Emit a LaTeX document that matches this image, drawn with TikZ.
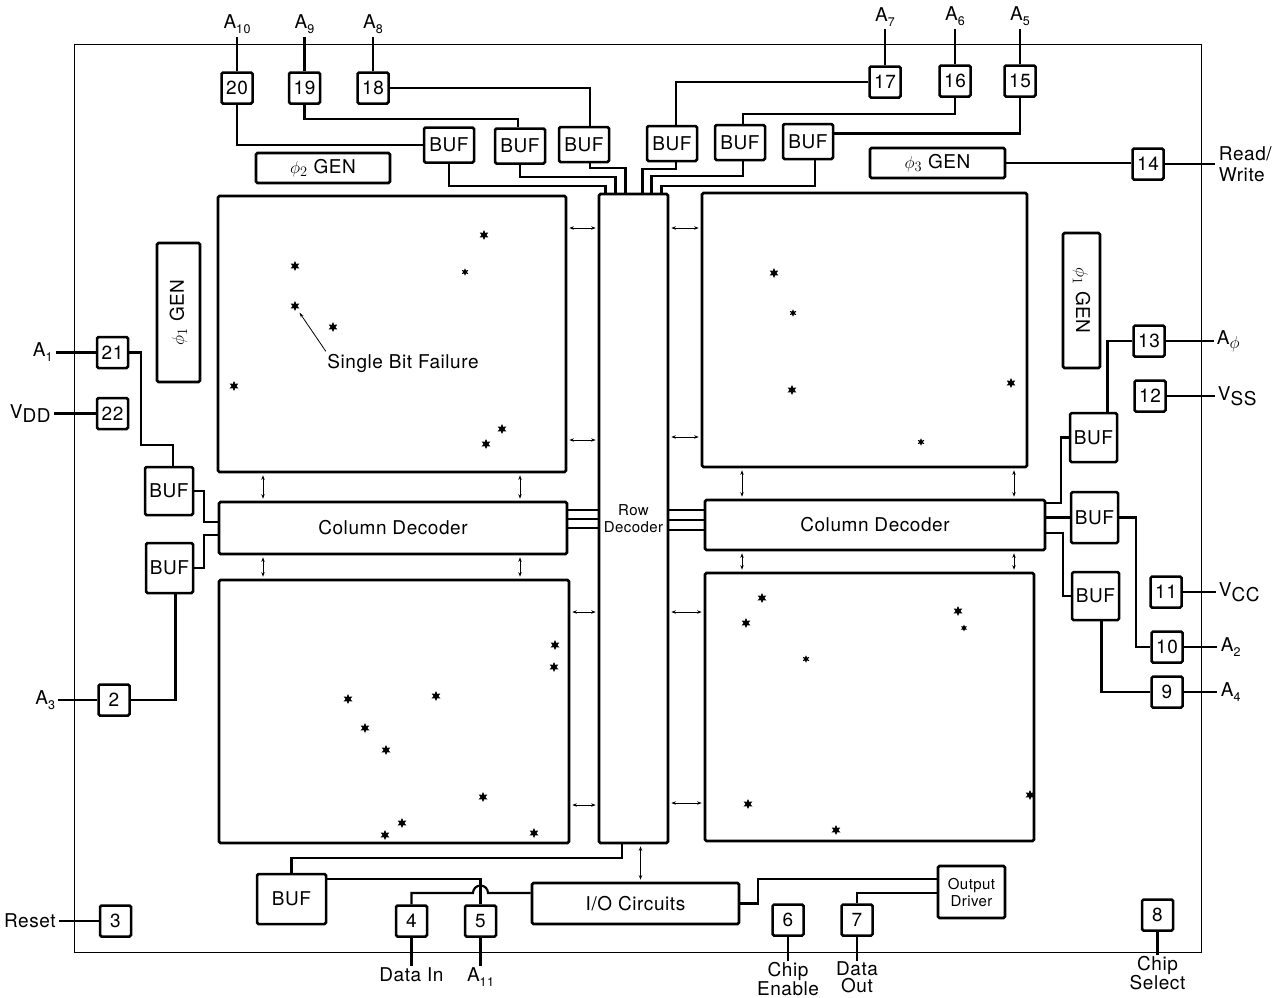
\documentclass[tikz,border=0pt]{standalone}
\usepackage{fontspec}
\setmainfont[LetterSpace=3]{TeX Gyre Heros}
\usetikzlibrary{shapes.geometric,arrows.meta}
\newcommand\ssub[1]{\raisebox{-0.5ex}{\fontsize{12.5}{12.5}\selectfont #1}}
\newcommand\lsub[1]{\raisebox{-0.45ex}{#1}}
\begin{document}
\begin{tikzpicture}[x=1pt,y=-1pt,
  every node/.style={font=\fontsize{19}{21}\selectfont},
  pad/.style={draw,line width=2.5pt,minimum width=31,minimum height=31,inner sep=0,rounded corners=1.5},
  buf/.style={draw,line width=2.5pt,inner sep=0,rounded corners=1.5},
  blk/.style={draw,line width=2.7pt,inner sep=0,rounded corners=1.5},
  wire/.style={line width=2.1pt},
  lead/.style={line width=2.3pt},
  dbl/.style={line width=0.8pt,{Stealth[length=4.5pt,width=3.5pt]}-{Stealth[length=4.5pt,width=3.5pt]},shorten <=2pt,shorten >=2pt},
  fail/.style={star,star points=6,star point ratio=2,fill,draw=none,inner sep=0}
]
\useasboundingbox (0,0) rectangle (1278,997);
\fill[white] (0,0) rectangle (1278,997);
% chip outline
\draw[line width=0.9pt] (74,44) rectangle (1201,952);

% memory arrays and decoders
\node[blk,minimum width=348,minimum height=276] (tl) at (392,334) {};
\node[blk,minimum width=325,minimum height=274] (tr) at (864.5,330) {};
\node[blk,minimum width=350,minimum height=263] (bl) at (394,711.5) {};
\node[blk,minimum width=329,minimum height=268] (br) at (869.5,707) {};
\node[blk,minimum width=69,minimum height=649,align=center,font=\fontsize{15}{17}\selectfont] (rd) at (633.5,518.5) {Row\\Decoder};
\node[blk,minimum width=348,minimum height=52] (lcd) at (393,528) {Column Decoder};
\node[blk,minimum width=340,minimum height=50] (rcd) at (875,525) {Column Decoder};

% generators
\node[blk,minimum width=134,minimum height=30] (g2) at (323,168) {$\phi_2$ GEN};
\node[blk,minimum width=135,minimum height=30] (g3) at (937.5,163) {$\phi_3$ GEN};
\node[blk,minimum width=43,minimum height=139] (g1l) at (178.5,312.5) {\rotatebox{90}{$\phi_1$ GEN}};
\node[blk,minimum width=37,minimum height=135] (g1r) at (1081.5,300.5) {\rotatebox{-90}{$\phi_1$ GEN}};

% buffers
\foreach \n/\x/\y in {b1/449/145, b2/520/146, b3/584/144.5, b4/672/143.5, b5/740/142.5, b6/808/141.5}
  \node[buf,minimum width=50,minimum height=35] (\n) at (\x,\y) {BUF};
\node[buf,minimum width=48,minimum height=48] (bl1) at (169,491) {BUF};
\node[buf,minimum width=47,minimum height=50] (bl2) at (169.5,568) {BUF};
\node[buf,minimum width=47,minimum height=49] (br1) at (1093.5,437.5) {BUF};
\node[buf,minimum width=47,minimum height=51] (br2) at (1094.5,517.5) {BUF};
\node[buf,minimum width=47,minimum height=48] (br3) at (1095.5,596) {BUF};
\node[buf,minimum width=69,minimum height=50] (bb) at (291.5,899) {BUF};
\node[blk,minimum width=207,minimum height=41] (io) at (635.5,903.5) {I/O Circuits};
\node[blk,minimum width=67,minimum height=52,align=center,font=\fontsize{15}{17}\selectfont] (od) at (971.5,892) {Output\\Driver};

% pads
\foreach \n/\t/\x/\y in {p20/20/237/88, p19/19/304.5/88, p18/18/373/88, p17/17/885/82, p16/16/955/81, p15/15/1020/81,
  p14/14/1148/164, p13/13/1149/341, p12/12/1150/396, p11/11/1166/592, p10/10/1167/647, p9/9/1167/692, p8/8/1157.5/915,
  p7/7/857/920, p6/6/788/920, p5/5/480.5/921, p4/4/411.5/921, p3/3/115.5/921, p2/2/114/700, p21/21/112.5/352.5, p22/22/112.5/413.5}
  \node[pad] (\n) at (\x,\y) {\t};

% pin leads and labels
\draw[lead] (p20.north) -- ++(0,-34) node[above,inner sep=2] {A\ssub{10}};
\draw[lead] (p19.north) -- ++(0,-34) node[above,inner sep=2] {A\ssub{9}};
\draw[lead] (p18.north) -- ++(0,-34) node[above,inner sep=2] {A\ssub{8}};
\draw[lead] (p17.north) -- ++(0,-36) node[above,inner sep=2] {A\ssub{7}};
\draw[lead] (p16.north) -- ++(0,-35) node[above,inner sep=2] {A\ssub{6}};
\draw[lead] (p15.north) -- ++(0,-35) node[above,inner sep=2] {A\ssub{5}};
\draw[lead] (p14.east) -- ++(50,0) node[right,align=left,inner sep=3] {Read/\\Write};
\draw[lead] (p13.east) -- ++(48,0) node[right,inner sep=2] {A\lsub{$\phi$}};
\draw[lead] (p12.east) -- ++(48,0) node[right,inner sep=2] {V\lsub{SS}};
\draw[lead] (p11.east) -- ++(33,0) node[right,inner sep=2] {V\lsub{CC}};
\draw[lead] (p10.east) -- ++(33,0) node[right,inner sep=3] {A\ssub{2}};
\draw[lead] (p9.east) -- ++(33,0) node[right,inner sep=3] {A\ssub{4}};
\draw[lead] (p8.south) -- ++(0,23) node[below,align=center,inner sep=0,font=\fontsize{19}{16.5}\selectfont] {Chip\\Select};
\draw[lead] (p7.south) -- ++(0,24) node[below,align=center,inner sep=0,font=\fontsize{19}{16.5}\selectfont] {Data\\Out};
\draw[lead] (p6.south) -- ++(0,24) node[below,align=center,inner sep=0,font=\fontsize{19}{16.5}\selectfont] {Chip\\Enable};
\draw[lead] (p5.south) -- ++(0,28) node[below,inner sep=1] {A\ssub{11}};
\draw[lead] (p4.south) -- ++(0,28) node[below,inner sep=1] {Data In};
\draw[lead] (p3.west) -- ++(-40,0) node[left,inner sep=2] {Reset};
\draw[lead] (p2.west) -- ++(-39,0) node[left,inner sep=2] {A\ssub{3}};
\draw[lead] (p22.west) -- ++(-42,0) node[left,inner sep=2] {V\lsub{DD}};
\draw[lead] (p21.west) -- ++(-40,0) node[left,inner sep=2] {A\ssub{1}};

% top wiring
\draw[wire] (p20.south) |- (b1.west);
\draw[wire] (p19.south) -- ++(0,14) -| ([xshift=-2]b2.north);
\draw[wire] (p18.east) -| ([xshift=6]b3.north);
\draw[wire] (p17.west) -| ([xshift=4]b4.north);
\draw[wire] (p16.south) -- ++(0,16) -| ([xshift=3]b5.north);
\draw[wire] (p15.south) |- ([yshift=8]b6.east);
\draw[wire] (b1.south) -- ++(0,22) -| ([xshift=-28]rd.north);
\draw[wire] (b2.south) -- ++(0,12) -| ([xshift=-18]rd.north);
\draw[wire] ([xshift=6]b3.south) -- ++(0,5) -| ([xshift=-8]rd.north);
\draw[wire] ([xshift=4]b4.south) -- ++(0,7) -| ([xshift=9]rd.north);
\draw[wire] ([xshift=3]b5.south) -- ++(0,15) -| ([xshift=18]rd.north);
\draw[wire] ([xshift=7]b6.south) -- ++(0,26) -| ([xshift=28]rd.north);
\draw[wire] (g3.east) -- (g3.east -| p14.west);

% left wiring
\draw[wire] (p21.east) -- ++(12,0) |- ([xshift=4,yshift=21]bl1.north) -- ([xshift=4]bl1.north);
\draw[wire] (bl1.east) -- ++(10,0) |- ([yshift=6]lcd.west);
\draw[wire] (bl2.east) -- ++(10,0) |- ([yshift=-7]lcd.west);
\draw[wire] (p2.east) -| ([xshift=6]bl2.south);

% right wiring
\draw[wire] (p13.west) -| ([xshift=14]br1.north);
\draw[wire] (br1.west) -- ++(-8,0) |- ([yshift=22]rcd.east);
\draw[wire] (br2.west) -- (br2.west -| rcd.east);
\draw[wire] ([yshift=-8]rcd.east) -- ++(17,0) |- (br3.west);
\draw[wire] (br2.east) -- ++(17,0) |- (p10.west);
\draw[wire] ([xshift=6]br3.south) |- (p9.west);

% decoder buses
\foreach \d in {18,9,0}
  \draw[wire] ([yshift=\d]lcd.east) -- ([yshift=\d]lcd.east -| rd.west);
\foreach \d in {15,5,-5}
  \draw[wire] ([yshift=\d]rcd.west) -- ([yshift=\d]rcd.west -| rd.east);

% bottom wiring
\draw[wire] ([xshift=-11.5]rd.south) -- ++(0,14) -| (bb.north);
\draw[dbl] ([xshift=7]rd.south) -- ([xshift=7]rd.south |- io.north);
\draw[wire] ([yshift=20]bb.east) -| (p5.north);
\draw[wire] ([yshift=10.5]io.west) -- (488,893) arc[start angle=0,end angle=180,radius=7.5pt] -| (p4.north);
\draw[wire] (io.east) -- ++(18,0) |- ([yshift=13]od.west);
\draw[wire] ([yshift=-1]od.west) -| (p7.north);

% double arrows
\draw[dbl] (tl.east |- 0,228) -- (rd.west |- 0,228);
\draw[dbl] (tl.east |- 0,440) -- (rd.west |- 0,440);
\draw[dbl] (bl.east |- 0,612) -- (rd.west |- 0,612);
\draw[dbl] (bl.east |- 0,805) -- (rd.west |- 0,805);
\draw[dbl] (rd.east |- 0,228) -- (tr.west |- 0,228);
\draw[dbl] (rd.east |- 0,437) -- (tr.west |- 0,437);
\draw[dbl] (rd.east |- 0,612) -- (br.west |- 0,612);
\draw[dbl] (rd.east |- 0,803) -- (br.west |- 0,803);
\foreach \x in {263,520} {
  \draw[dbl] (tl.south -| \x,0) -- (lcd.north -| \x,0);
  \draw[dbl] (lcd.south -| \x,0) -- (bl.north -| \x,0);
}
\foreach \x in {742,1014} {
  \draw[dbl] (tr.south -| \x,0) -- (rcd.north -| \x,0);
  \draw[dbl] (rcd.south -| \x,0) -- (br.north -| \x,0);
}

% failure marks
\foreach \x/\y/\s [count=\i] in {484/235/10, 295/266/10, 465/272/7.5, 295/306/10, 333/327/10, 234/386/10, 502/429/10, 486/444/10,
  774/273/10, 793/313/7.5, 792/390/10, 1011/383/10, 921/442/7.5,
  555/645/10, 554/667/10, 348/699/10, 436/696/10, 365/728/10, 386/750/10, 483/797/10, 402/823/10, 385/835/10, 534/833/10,
  762/598/10, 746/623/10, 958/611/10, 964/628/7, 806/659/7.5, 748/804/10, 1030/795/10, 836/830/10}
  \node[fail,minimum size=\s] (f\i) at (\x,\y) {};

\node (sbf) at (403,363) {Single Bit Failure};
\draw[line width=0.8pt,-{Stealth[length=5pt,width=3pt]},shorten >=5pt] ([xshift=2pt,yshift=-1pt]sbf.north west) -- (f4);
\end{tikzpicture}
\end{document}
